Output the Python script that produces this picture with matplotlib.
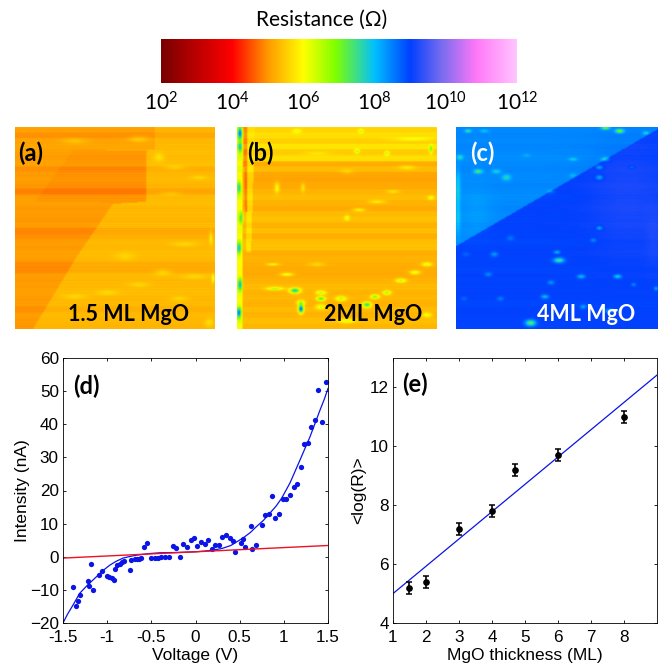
import numpy as np
import matplotlib
matplotlib.use('Agg')
import matplotlib.pyplot as plt
from matplotlib.colors import LinearSegmentedColormap
from matplotlib.path import Path

W, H = 668, 666

# colour scale
scale_stops = [0.0, 0.2, 0.3, 0.4, 0.49, 0.56, 0.6, 0.7, 0.79, 0.886, 1.0]
scale_colors = ['#780000', '#ff0000', '#ff9900', '#ffff00', '#80ff00', '#30d8a0',
                '#00c0ff', '#0040ff', '#7a6cf0', '#ff78f8', '#ffc4ff']
scale_ticks = [2, 4, 6, 8, 10, 12]

# (d) current vs voltage
volt = [-1.39, -1.35, -1.335, -1.31, -1.22, -1.21, -1.18, -1.165, -1.09, -1.06, -1.005, -0.98,
        -0.95, -0.92, -0.91, -0.885, -0.86, -0.835, -0.805, -0.745, -0.73, -0.69, -0.665, -0.64,
        -0.615, -0.585, -0.545, -0.505, -0.46, -0.425, -0.39, -0.35, -0.30, -0.26, -0.22, -0.175,
        -0.14, -0.10, -0.055, -0.015, 0.02, 0.065, 0.11, 0.145, 0.185, 0.22, 0.27, 0.305, 0.34,
        0.385, 0.43, 0.45, 0.51, 0.54, 0.56, 0.63, 0.645, 0.68, 0.75, 0.79, 0.83, 0.865, 0.905,
        0.95, 0.985, 1.03, 1.07, 1.11, 1.15, 1.195, 1.23, 1.27, 1.31, 1.355, 1.39, 1.43, 1.475]
current = [-9.1, -14.8, -13.3, -11.5, -7.3, -8.9, -2.2, -10.1, -5.5, -4.2, -5.9, -6.1,
           -6.4, -6.9, -3.7, -2.6, -2.2, -1.7, -1.3, -4.0, -1.0, -0.8, -0.7, -0.6,
           -0.5, 2.9, 4.3, -0.3, -0.3, -0.3, -0.2, -0.2, -0.2, 3.2, 2.7, -0.1,
           3.8, 3.0, 5.2, 5.8, 3.1, 4.6, 3.8, 5.1, 2.2, 3.6, 3.5, 6.0, 6.6,
           5.6, 4.7, 1.3, 4.2, 5.4, 2.8, 9.2, 2.3, 3.5, 9.5, 12.7, 12.8, 18.2, 11.7,
           12.8, 17.3, 17.5, 18.5, 21.2, 22.0, 27.1, 34.0, 34.2, 39.3, 41.2, 50.2, 40.8, 52.7]
fit_volt = [-1.5, -1.45, -1.387, -1.31, -1.22, -1.10, -1.03, -0.968, -0.9, -0.82, -0.74, -0.66,
            -0.53, -0.4, -0.2, 0.0, 0.1, 0.2, 0.3, 0.4, 0.54, 0.62, 0.69, 0.77, 0.843, 0.91,
            0.976, 1.07, 1.183, 1.296, 1.41, 1.46, 1.5]
fit_current = [-20.0, -17.4, -14.6, -11.0, -8.5, -5.5, -3.8, -2.5, -1.4, -0.4, 0.1, 0.5,
               0.95, 1.2, 1.3, 1.5, 1.7, 2.0, 2.5, 3.4, 5.7, 7.3, 9.1, 11.0, 13.2, 15.2,
               17.7, 22.3, 29.2, 36.2, 44.3, 47.7, 50.8]
ohm_volt = [-1.5, 1.5]
ohm_current = [-0.4, 3.4]

# (e) mean log resistance vs thickness
thick = [1.5, 2, 3, 4, 4.7, 6, 8]
logr = [5.2, 5.4, 7.2, 7.8, 9.2, 9.7, 11.0]
logr_err = [0.2, 0.2, 0.2, 0.2, 0.2, 0.2, 0.2]
line_thick = [1, 9]
line_logr = [5.0, 12.42]

# maps: log10(R) levels, terraces (x, y fractions, y down), scan line offsets, spots (x, y, height, rx, ry)
fine_scan = [.06, -.05, .03, -.07, .05, .0, -.04]
base_a = 5.28
terraces_a = [([(0, .11), (.66, .115), (.655, .37), (.49, .38), (.31, .64), (.09, 1), (0, 1)], 5.0),
              ([(.29, .115), (.655, .115), (.655, .37), (.49, .38), (.4, .37), (.1, .37)], 4.93),
              ([(0, 0), (.7, 0), (.7, .11), (0, .11)], 5.08)]
stripes_a = [.0, -.12, .03, .05, .08, .05, .1, -.05, .03, .05, .0, -.15, .05, .08, .03, .05, .0, .05,
             -.12, -.05, .05, .03, .08, .05, -.08, -.1, .05, .03, .05, .08, .03, .05, -.05, .05, .03, .0]
spots_a = [(.62, .06, .4, .05, .015), (.3, .07, .3, .06, .015), (.72, .15, .4, .025, .02),
           (.8, .2, .3, .05, .01), (.92, .25, .3, .04, .01), (.78, .33, .25, .05, .01),
           (.85, .58, .3, .06, .012), (.74, .72, .35, .04, .015), (.9, .74, .3, .06, .012),
           (.62, .78, .3, .05, .012), (.46, .82, .3, .05, .012), (.3, .84, .3, .06, .012),
           (.82, .85, .3, .04, .012), (.97, .97, .4, .02, .02), (.55, .64, .25, .05, .02),
           (.98, .55, .6, .008, .03), (.99, .75, .9, .006, .02)]
base_b = 5.22
terraces_b = [([(0, 0), (1, 0), (1, .17), (0, .17)], 5.5),
              ([(0, .17), (1, .17), (1, .27), (0, .27)], 5.15),
              ([(.055, 0), (.09, 0), (.07, .62), (.045, .62)], 5.6),
              ([(0, 0), (.03, 0), (.03, 1), (0, 1)], 6.0),
              ([(.03, 0), (.05, 0), (.05, .42), (.04, .42)], 4.8)]
stripes_b = [.1, .2, .05, .25, .0, .2, .05, .2, .0, -.05, -.05, .05, .15, .05, -.03, .12, .18, .03, .15,
             .0, .15, .18, .0, .05, .0, -.03, -.03, .05, .12, .05, .08, .03, .12, .05, .15, .08]
spots_b = [(.015, .1, 1.7, .01, .03), (.01, .3, 1.8, .01, .03), (.02, .45, 1.2, .01, .03),
           (.01, .6, 1.8, .01, .03), (.015, .78, 2.0, .01, .03), (.01, .92, 2.6, .01, .025),
           (.015, .03, 2.5, .01, .03), (.2, .3, .8, .012, .025), (.33, .3, .6, .01, .02),
           (.18, .68, .8, .03, .006), (.25, .73, 1.0, .03, .008), (.19, .8, 1.2, .04, .008),
           (.29, .81, 2.6, .025, .012), (.32, .87, 1.2, .02, .012), (.32, .9, 3.4, .012, .02),
           (.42, .82, 1.2, .025, .01), (.42, .89, 1.0, .025, .012), (.42, .85, 2.0, .02, .01),
           (.52, .85, 1.2, .025, .012), (.55, .96, .9, .04, .01), (.65, .88, 2.4, .02, .012),
           (.69, .84, 1.6, .02, .01), (.75, .82, 1.4, .02, .01), (.82, .76, 1.2, .025, .01),
           (.89, .72, 1.0, .025, .01), (.95, .68, 1.0, .025, .01), (.62, .02, .8, .012, .01),
           (.6, .12, 1.0, .012, .01), (.75, .13, 1.0, .012, .01), (.97, .11, 1.4, .008, .02),
           (.55, .45, .9, .012, .012), (.61, .41, .7, .03, .008), (.7, .37, .6, .04, .008),
           (.78, .32, .5, .03, .008), (.97, .35, .8, .015, .01), (.95, .93, .8, .025, .012),
           (.55, .22, .3, .03, .012), (.4, .68, .4, .04, .01), (.85, .2, .5, .04, .01),
           (.3, .02, .6, .02, .01), (.4, .13, .3, .06, .008), (.88, .06, .5, .1, .008)]
base_c = 8.98
terraces_c = [([(0, 0), (1, 0), (1, .01), (0, .59)], 8.42)]
stripes_c = [.0, .03, .0, .03, .0, -.03, .0, .03, .0, .0, .03, .0, -.03, .0, .03, .0, .0, .03,
             .0, .0, -.03, .0, .03, .0, .0, -.03, .03, .0, .0, .03, .0, -.03, .0, .03, .0, .0]
spots_c = [(.06, .02, -1.0, .015, .008), (.14, .02, -.5, .02, .008), (.74, .005, -1.5, .02, .008),
           (.81, .02, -1.6, .02, .01), (.94, .03, -.8, .015, .008), (.02, .15, -.8, .015, .012),
           (.11, .22, -1.2, .02, .01), (.2, .22, -.7, .02, .01), (.25, .25, -.8, .02, .014),
           (.35, .14, -.3, .02, .008), (.58, .16, -.6, .02, .008), (.74, .16, -.9, .02, .01),
           (.71, .2, -.9, .018, .01), (.71, .25, -.9, .018, .012), (.58, .24, -.4, .018, .01),
           (.87, .2, -.5, .015, .008), (.47, .32, -.4, .018, .01), (.71, .5, -.9, .015, .01),
           (.68, .56, -.6, .015, .01), (.27, .55, -.4, .018, .012), (.05, .63, -.3, .02, .01),
           (.19, .63, -.7, .018, .012), (.5, .62, -1.0, .015, .008), (.51, .66, -1.6, .025, .012),
           (.62, .74, -1.0, .02, .01), (.8, .74, -1.2, .02, .01),
           (.16, .73, -.6, .018, .01), (.47, .77, -.7, .015, .01), (.88, .78, -.6, .012, .008),
           (.22, .85, -.5, .015, .01), (.44, .84, -1.0, .018, .01), (.04, .85, -.3, .015, .01),
           (.63, .89, -.8, .015, .01), (.76, .91, -.9, .02, .01), (.37, .97, -1.8, .025, .015),
           (.99, .8, -.8, .01, .01), (.01, .3, -.6, .012, .08), (.01, .45, -.5, .012, .08),
           (.85, .35, .2, .2, .3), (.98, .55, .15, .04, .15), (.1, .42, -.15, .08, .12)]

map_labels = ['(a)', '(b)', '(c)']
map_captions = ['1.5 ML MgO', '2ML MgO', '4ML MgO']


def add_axes_px(x0, y0, x1, y1):
    return fig.add_axes([x0 / W, 1 - y1 / H, (x1 - x0) / W, (y1 - y0) / H])


def build_map(base, terraces, stripes, spots):
    n = len(stripes) * 6
    xx, yy = np.meshgrid((np.arange(n) + .5) / n, (np.arange(n) + .5) / n)
    pts = np.column_stack([xx.ravel(), yy.ravel()])
    img = np.full((n, n), float(base))
    for poly, level in terraces:
        mask = Path(poly).contains_points(pts).reshape(n, n)
        img[mask] = level
    img += np.repeat(stripes, 6)[:, None]
    img += np.resize(fine_scan, n)[:, None] * (0.4 if base > 8 else 1.0)
    for sx, sy, height, rx, ry in spots:
        img += height * np.exp(-((xx - sx) / rx) ** 2 - ((yy - sy) / ry) ** 2)
    return img


plt.rcParams['font.family'] = ['Liberation Sans', 'DejaVu Sans']
plt.rcParams['mathtext.fontset'] = 'custom'
plt.rcParams['mathtext.rm'] = 'Lato'
cmap = LinearSegmentedColormap.from_list('resist', list(zip(scale_stops, scale_colors)), N=512)

fig = plt.figure(figsize=(W / 100, H / 100), dpi=100)

# colour bar
cax = add_axes_px(161, 39, 517, 83)
grad = np.linspace(2, 12, 512)[None, :]
cax.imshow(grad, aspect='auto', cmap=cmap, vmin=2, vmax=12, extent=[2, 12, 0, 1])
cax.set_yticks([])
cax.set_xticks(scale_ticks)
cax.set_xticklabels([f'$\\mathregular{{10^{{{t}}}}}$' for t in scale_ticks], fontsize=15, family='Lato')
cax.tick_params(axis='x', length=0, pad=6)
for s in cax.spines.values():
    s.set_visible(False)
fig.text(322 / W, 1 - 20 / H, 'Resistance (Ω)', ha='center', va='center', fontsize=15, family=['Lato', 'DejaVu Sans'])

# resistance maps
map_boxes = [(15, 127, 215, 329), (237, 127, 437, 329), (456, 127, 658, 329)]
map_data = [(base_a, terraces_a, stripes_a, spots_a),
            (base_b, terraces_b, stripes_b, spots_b),
            (base_c, terraces_c, stripes_c, spots_c)]
label_pos = [(.015, .87), (.05, .87), (.07, .87)]
caption_pos = [(.57, .07), (.68, .07), (.645, .07)]
text_colors = ['black', 'black', 'white']
for i in range(3):
    ax = add_axes_px(*map_boxes[i])
    ax.imshow(build_map(*map_data[i]), aspect='auto', cmap=cmap, vmin=2, vmax=12, interpolation='bicubic')
    ax.axis('off')
    ax.text(*label_pos[i], map_labels[i], transform=ax.transAxes, fontsize=17, fontweight='bold',
            family='Lato', color=text_colors[i], ha='left', va='center')
    ax.text(*caption_pos[i], map_captions[i], transform=ax.transAxes, fontsize=15.5, fontweight='bold',
            family='Lato', color=text_colors[i], ha='center', va='center')

# (d)
ax_d = add_axes_px(63, 358, 328, 623)
ax_d.plot(volt, current, 'o', color='#0a14e6', ms=3.8, mew=0, clip_on=False)
ax_d.plot(fit_volt, fit_current, color='#0a14e6', lw=0.9)
ax_d.plot(ohm_volt, ohm_current, color='#f01020', lw=1.0)
ax_d.set_xlim(-1.5, 1.5)
ax_d.set_ylim(-20, 60)
ax_d.set_xticks([-1.5, -1, -0.5, 0, 0.5, 1, 1.5])
ax_d.set_xticklabels(['-1.5', '-1', '-0.5', '0', '0.5', '1', '1.5'])
ax_d.set_yticks(range(-20, 61, 10))
ax_d.set_xlabel('Voltage (V)', fontsize=12.5, labelpad=2)
ax_d.set_ylabel('Intensity (nA)', fontsize=12.5, labelpad=0)
ax_d.text(.04, .895, '(d)', transform=ax_d.transAxes, fontsize=17, fontweight='bold', family='Lato', va='center')

# (e)
ax_e = add_axes_px(393, 358, 657, 623)
ax_e.plot(line_thick, line_logr, color='#0a14e6', lw=0.9)
ax_e.errorbar(thick, logr, yerr=logr_err, fmt='o', color='black', ms=3.8, elinewidth=1.2, capsize=2.2, capthick=1.1)
ax_e.set_xlim(1, 9)
ax_e.set_ylim(4, 13)
ax_e.set_xticks(range(1, 9))
ax_e.set_yticks([4, 6, 8, 10, 12])
ax_e.set_xlabel('MgO thickness (ML)', fontsize=12.5, labelpad=2)
ax_e.set_ylabel('<log(R)>', fontsize=12.5, labelpad=3)
ax_e.text(.035, .9, '(e)', transform=ax_e.transAxes, fontsize=17, fontweight='bold', family='Lato', va='center')

for ax in (ax_d, ax_e):
    ax.tick_params(direction='in', top=True, right=True, length=2.5, width=0.6, labelsize=12.3)
    ax.tick_params(axis='x', pad=5)
    ax.tick_params(axis='y', pad=3)
    for s in ax.spines.values():
        s.set_linewidth(0.6)

fig.savefig('out.png', dpi=100)
